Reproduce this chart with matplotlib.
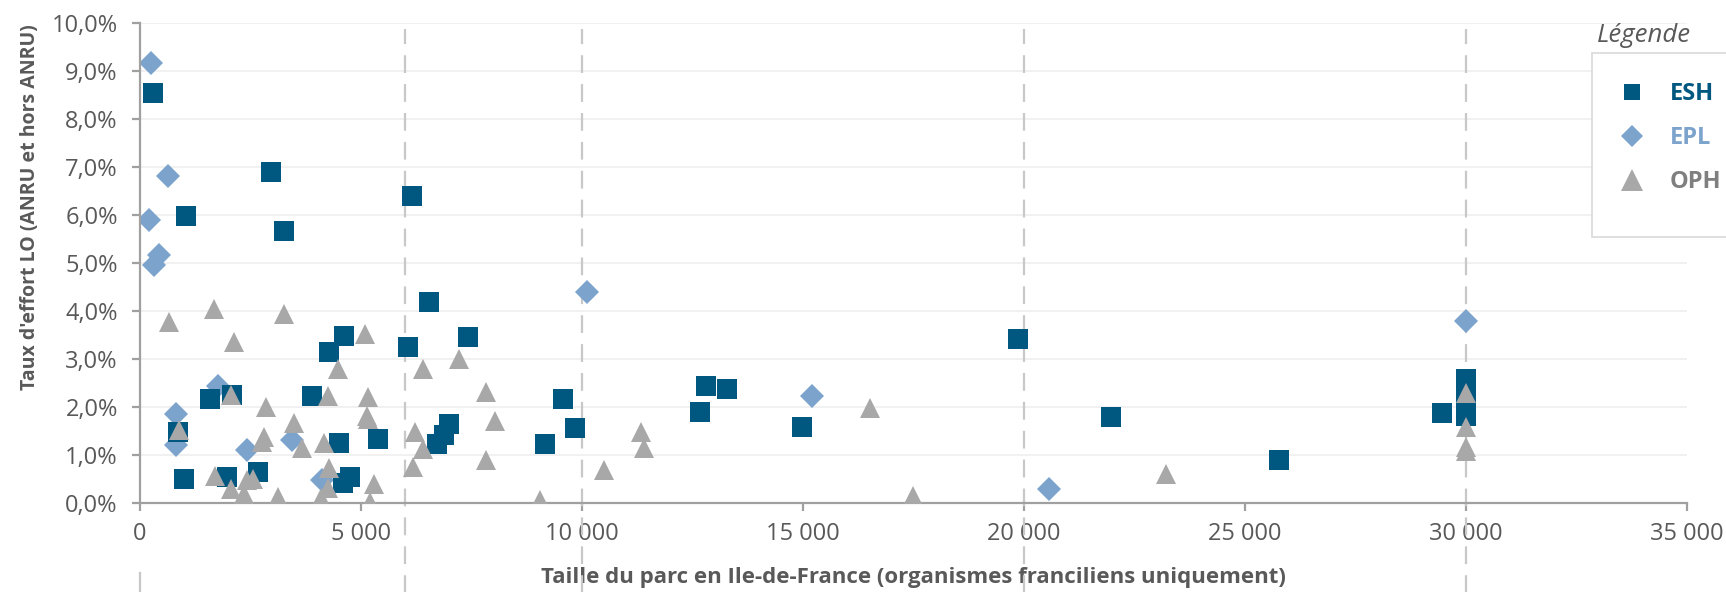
import matplotlib
matplotlib.use("Agg")
import matplotlib.pyplot as plt
from matplotlib.lines import Line2D
from matplotlib.patches import Rectangle
from matplotlib.ticker import FuncFormatter, MultipleLocator

plt.rcParams['font.family'] = ['Open Sans', 'DejaVu Sans']

# ---- data (x = taille du parc, y = taux d'effort in %) ----
esh_x = [302, 2957, 6147, 1033, 3251, 6538, 4623, 4276, 6071, 7428, 1584, 2089,
         3884, 867, 4502, 5377, 6719, 6885, 6998, 1003, 1976, 2662, 4585, 4751,
         9570, 9849, 9170, 12812, 13273, 12663, 14970, 19857, 21968, 25762,
         29450, 30000, 30000, 30000]
esh_y = [8.54, 6.90, 6.40, 5.97, 5.67, 4.19, 3.48, 3.15, 3.26, 3.46, 2.17, 2.25,
         2.22, 1.47, 1.24, 1.33, 1.23, 1.42, 1.65, 0.51, 0.55, 0.65, 0.41, 0.54,
         2.17, 1.56, 1.22, 2.44, 2.37, 1.89, 1.59, 3.41, 1.80, 0.90,
         1.87, 2.58, 2.20, 1.82]

epl_x = [249, 626, 211, 437, 317, 10113, 1772, 814, 814, 3446, 2413, 4110,
         15204, 20566, 30000]
epl_y = [9.16, 6.82, 5.89, 5.16, 4.95, 4.39, 2.43, 1.85, 1.21, 1.31, 1.11, 0.48,
         2.22, 0.29, 3.79]

oph_x = [664, 1667, 3266, 2136, 5090, 6403, 4487, 7217, 2052, 2851, 4261, 5151,
         7828, 882, 3491, 3658, 2805, 2767, 4163, 5128, 5150, 6222, 6395, 8032,
         7821, 6184, 1697, 2052, 2549, 2428, 2360, 3115, 4276, 4261, 4088, 5294,
         5204, 9050, 10505, 11335, 11410, 16516, 17496, 23213,
         30000, 30000, 30000, 30000]
oph_y = [3.78, 4.04, 3.93, 3.36, 3.52, 2.79, 2.79, 3.00, 2.25, 2.01, 2.23, 2.20,
         2.31, 1.52, 1.66, 1.15, 1.38, 1.28, 1.25, 1.82, 1.74, 1.48, 1.13, 1.70,
         0.89, 0.76, 0.56, 0.30, 0.51, 0.48, 0.19, 0.12, 0.72, 0.32, 0.10, 0.40,
         0.03, 0.06, 0.69, 1.47, 1.15, 1.97, 0.15, 0.60,
         2.30, 1.58, 1.17, 1.08]

ref_lines_x = [6000, 10000, 20000, 30000]

series_names = ["ESH", "EPL", "OPH"]
c_esh, c_epl, c_oph = "#00577F", "#7BA3CC", "#A8A8A8"
txt_gray = "#595959"

fig = plt.figure(figsize=(17.26, 5.92), dpi=100)
ax = fig.add_axes([140 / 1726, 89 / 592, 1547 / 1726, 480 / 592])

ax.set_xlim(0, 35000)
ax.set_ylim(0, 10)
ax.xaxis.set_major_locator(MultipleLocator(5000))
ax.yaxis.set_major_locator(MultipleLocator(1))
ax.xaxis.set_major_formatter(FuncFormatter(lambda v, p: f"{int(v):,}".replace(",", " ")))
ax.yaxis.set_major_formatter(FuncFormatter(lambda v, p: f"{v:.1f}%".replace(".", ",")))

ax.grid(axis='y', color='#EFEFEF', linewidth=1.2, zorder=0)
ax.set_axisbelow(True)
for s in ['top', 'right']:
    ax.spines[s].set_visible(False)
for s in ['left', 'bottom']:
    ax.spines[s].set_color('#A0A0A0')
    ax.spines[s].set_linewidth(1.6)
    ax.spines[s].set_zorder(5)
ax.tick_params(axis='both', colors='#A0A0A0', width=1.6, length=6, labelcolor=txt_gray,
               labelsize=17)
ax.tick_params(axis='y', pad=10)
ax.tick_params(axis='x', pad=8)

# dashed reference lines
for xv in ref_lines_x:
    ax.axvline(xv, ymin=-0.19, ymax=0.988, color='#C8C8C8', linewidth=1.6,
               dashes=(8, 5), clip_on=False, zorder=1)
ax.axvline(0, ymin=-0.19, ymax=-0.145, color='#C8C8C8', linewidth=1.6,
           clip_on=False, zorder=1)

ax.plot(epl_x, epl_y, linestyle='none', marker='D', ms=12.0, color=c_epl,
        markeredgewidth=0, zorder=3)
ax.plot(esh_x, esh_y, linestyle='none', marker='s', ms=14.4, color=c_esh,
        markeredgewidth=0, zorder=4)
ax.plot(oph_x, oph_y, linestyle='none', marker='^', ms=14.4, color=c_oph,
        markeredgewidth=0, zorder=6)

ax.set_xlabel("Taille du parc en Ile-de-France (organismes franciliens uniquement)",
              fontsize=16, fontweight='bold', color=txt_gray, va='center')
ax.xaxis.set_label_coords(0.5, -0.156)
ax.set_ylabel("Taux d'effort LO (ANRU et hors ANRU)", fontsize=14,
              fontweight='bold', color=txt_gray, va='center')
ax.yaxis.set_label_coords(-0.071, 0.617)

# legend
fig.patches.append(Rectangle((1592 / 1726, (592 - 237) / 592), 0.2, 184 / 592,
                             transform=fig.transFigure, facecolor='white',
                             edgecolor='#D9D9D9', linewidth=1.2, zorder=10))
fig.text(1597 / 1726, (592 - 36) / 592, "Légende", fontsize=18.5, style='italic',
         color=txt_gray, ha='left', va='center', zorder=11)
handles = [
    Line2D([], [], linestyle='none', marker='s', ms=11.5, color=c_esh, mew=0),
    Line2D([], [], linestyle='none', marker='D', ms=11.0, color=c_epl, mew=0),
    Line2D([], [], linestyle='none', marker='^', ms=15.5, color=c_oph, mew=0),
]
leg = fig.legend(handles, series_names, loc='upper left',
                 bbox_to_anchor=(1621 / 1726, (592 - 82) / 592),
                 frameon=False, fontsize=17, handlelength=0.95, handletextpad=1.1,
                 labelspacing=0.85, borderpad=0, borderaxespad=0)
leg.set_zorder(12)
for t, c in zip(leg.get_texts(), [c_esh, c_epl, "#7F7F7F"]):
    t.set_color(c)
    t.set_fontweight('bold')

fig.savefig("out.png", dpi=100)
